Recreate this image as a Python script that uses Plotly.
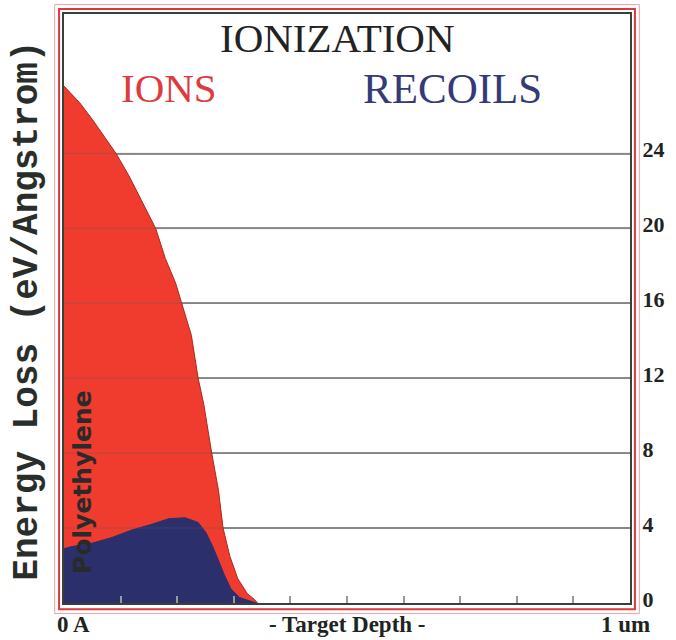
import plotly.graph_objects as go

# Ionization energy loss vs. target depth (depth in Angstrom)
ion_depth = [0, 280, 505, 750, 920, 1150, 1380, 1620, 1790, 1970, 2070, 2250,
             2370, 2470, 2610, 2730, 2810, 2930, 3070, 3240, 3360, 3420]
ion_loss = [27.6, 26.7, 25.8, 24.7, 24.0, 22.8, 21.4, 20.0, 18.4, 17.1, 16.1, 14.3,
            12.0, 10.6, 8.0, 6.0, 4.0, 2.5, 1.3, 0.5, 0.2, 0.0]

recoil_depth = [0, 120, 505, 850, 1200, 1550, 1850, 2140, 2370, 2510, 2630, 2720,
                2840, 2950, 3100, 3240, 3400]
recoil_loss = [2.9, 3.0, 3.2, 3.5, 3.9, 4.2, 4.5, 4.55, 4.3, 3.75, 3.0, 2.3,
               1.45, 0.75, 0.3, 0.15, 0.0]

y_ticks = [0, 4, 8, 12, 16, 20, 24]
x_ticks = [1000, 2000, 3000, 4000, 5000, 6000, 7000, 8000, 9000]
x_labels = ["0 A", "- Target Depth -", "1 um"]

ION_RED = "#f03c2f"
RECOIL_BLUE = "#2b2f6c"
INK = "#1e241e"
SERIF = "Liberation Serif, Times New Roman, serif"

fig = go.Figure()
fig.add_trace(go.Scatter(
    x=ion_depth, y=ion_loss, mode="lines", fill="tozeroy",
    fillcolor=ION_RED, line=dict(color="#a8281f", width=1),
    hoverinfo="skip", showlegend=False))
fig.add_trace(go.Scatter(
    x=recoil_depth, y=recoil_loss, mode="lines", fill="tozeroy",
    fillcolor=RECOIL_BLUE, line=dict(color=RECOIL_BLUE, width=1),
    hoverinfo="skip", showlegend=False))

shapes = []
# faint grid lines showing through the filled areas
for v in y_ticks[1:]:
    shapes.append(dict(type="line", xref="paper", yref="y", x0=0, x1=1, y0=v, y1=v,
                       line=dict(color="rgba(90,90,90,0.28)", width=1.5), layer="above"))
# red double frame around the plot
shapes.append(dict(type="rect", xref="paper", yref="paper",
                   x0=-0.0087, x1=1.0087, y0=-0.0105, y1=1.0085,
                   line=dict(color="#d8393c", width=2), layer="above"))
shapes.append(dict(type="rect", xref="paper", yref="paper",
                   x0=-0.0165, x1=1.0165, y0=-0.018, y1=1.016,
                   line=dict(color="#f0a0a4", width=1), layer="above"))


def label(text, x, y, size, color, family=SERIF, bold=False, angle=0,
          xanchor="center", yanchor="middle"):
    return dict(text=text, x=x, y=y, xref="paper", yref="paper",
                xanchor=xanchor, yanchor=yanchor, showarrow=False, textangle=angle,
                font=dict(family=family, size=size, color=color,
                          weight="bold" if bold else "normal"))


annotations = [
    label("IONIZATION", 0.484, 0.959, 41, "#222222"),
    label("IONS", 0.186, 0.874, 41, "#e03a3e"),
    label("RECOILS", 0.686, 0.874, 43, "#343a78"),
    label("Energy Loss (eV/Angstrom)", -0.064, 0.496, 36, "#2a2e2a",
          family="Liberation Mono, Courier New, monospace", bold=True, angle=-90),
    label("Polyethylene", 0.033, 0.205, 25, "#2a2a2a",
          family="DejaVu Sans", bold=True, angle=-90),
    label(x_labels[0], -0.016, -0.036, 23, INK, bold=True, xanchor="left"),
    label(x_labels[1], 0.5, -0.036, 23, INK, bold=True),
    label(x_labels[2], 1.038, -0.036, 23, INK, bold=True, xanchor="right"),
]

fig.update_layout(
    width=676, height=640, autosize=False,
    margin=dict(l=64, r=38, t=12, b=37),
    paper_bgcolor="white", plot_bgcolor="white",
    shapes=shapes, annotations=annotations,
    xaxis=dict(range=[0, 10000], tickvals=x_ticks, ticks="inside", ticklen=7,
               tickwidth=1.5, tickcolor="#9a9a9a", showticklabels=False,
               showgrid=False, zeroline=False, showline=True, mirror=True,
               linecolor="#3a3f3a", linewidth=2, fixedrange=True),
    yaxis=dict(range=[0, 31.45], side="right", tickvals=y_ticks,
               ticks="outside", ticklen=6, tickcolor="rgba(0,0,0,0)",
               showgrid=True, gridcolor="#969696", gridwidth=1.5, zeroline=False,
               showline=True, mirror=True, linecolor="#3a3f3a", linewidth=2,
               ticklabelshift=-4,
               tickfont=dict(family=SERIF, size=22, color=INK, weight="bold"),
               fixedrange=True),
)

fig.write_html("out.html")
